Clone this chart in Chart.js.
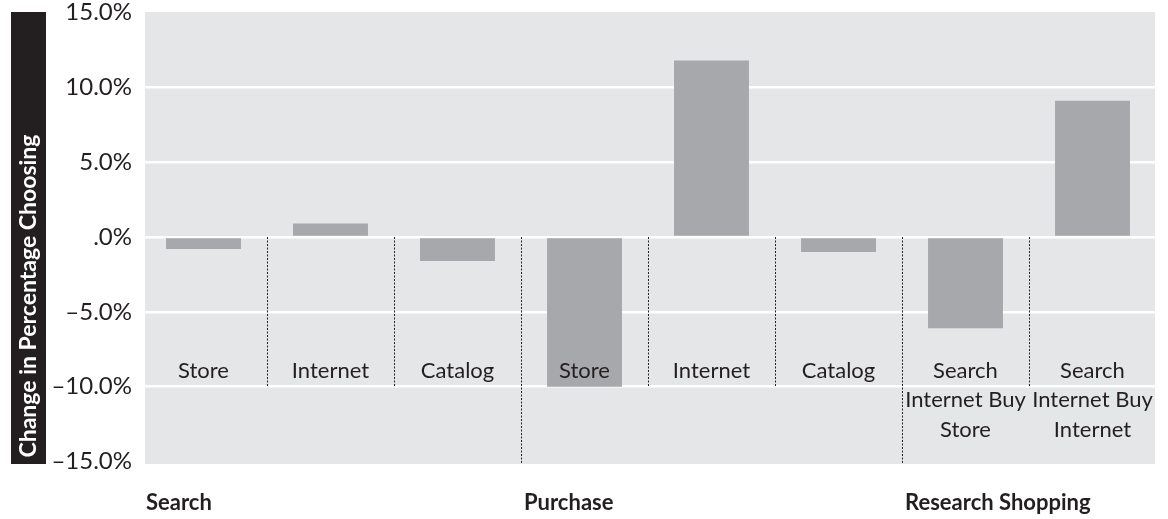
<!DOCTYPE html>
<html>
<head>
<meta charset="utf-8">
<script src="https://cdn.jsdelivr.net/npm/chart.js@4.4.1/dist/chart.umd.min.js"></script>
<style>
  body { margin: 0; background: #fff; }
  #box { width: 1168px; height: 519px; }
</style>
</head>
<body>
<div id="box"><canvas id="bar-chart"></canvas></div>
<script>
  // change in percentage choosing each channel
  var categories = ['Store', 'Internet', 'Catalog', 'Store', 'Internet', 'Catalog',
                    ['Search', 'Internet Buy', 'Store'], ['Search', 'Internet Buy', 'Internet']];
  var values = [-0.8, 0.9, -1.6, -10.0, 11.8, -1.0, -6.1, 9.1];

  var groups = ['Search', 'Purchase', 'Research Shopping'];
  var groupStarts = [0, 3, 6];

  var yTicks = [-15, -10, -5, 0, 5, 10, 15];
  var yTitle = 'Change in Percentage Choosing';

  var ink = '#231f20';
  var font = 'Lato';

  function tickLabel(v){
    if (v == 0) return '.0%';
    return (v < 0 ? '\u2013' : '') + Math.abs(v).toFixed(1) + '%';
  }

  var decor = {
    id: 'decor',
    beforeDraw: function(chart){
      var ctx = chart.ctx;
      var a = chart.chartArea;
      ctx.save();
      // grey panel
      ctx.fillStyle = '#e5e6e8';
      ctx.fillRect(a.left + 5, a.top - 0.5, a.right - a.left - 6, a.bottom - a.top + 3);

      // black box with the axis title
      ctx.fillStyle = ink;
      ctx.fillRect(11, a.top - 0.5, 35, a.bottom - a.top + 3);
      ctx.translate(29, a.bottom - 4);
      ctx.rotate(-Math.PI / 2);
      ctx.fillStyle = '#fff';
      ctx.font = 'bold 23px ' + font;
      ctx.textAlign = 'left';
      ctx.textBaseline = 'middle';
      ctx.fillText(yTitle, 0, 0, 324);
      ctx.restore();
    },
    afterDatasetsDraw: function(chart){
      var ctx = chart.ctx;
      var a = chart.chartArea;
      var x = chart.scales.x;
      var y = chart.scales.y;
      var zero = y.getPixelForValue(0);
      var low = y.getPixelForValue(-10);
      ctx.save();

      // dotted separators, the long ones split the groups
      ctx.strokeStyle = '#222';
      ctx.lineWidth = 1;
      ctx.setLineDash([2, 1.5]);
      for (var i = 0; i < categories.length - 1; i++){
        var sx = Math.round((x.getPixelForValue(i) + x.getPixelForValue(i + 1)) / 2) + 0.5;
        var end = groupStarts.indexOf(i + 1) >= 0 ? a.bottom + 2.5 : low;
        ctx.beginPath();
        ctx.moveTo(sx, zero);
        ctx.lineTo(sx, end);
        ctx.stroke();
      }
      ctx.setLineDash([]);

      // channel names inside the plot
      ctx.fillStyle = ink;
      ctx.font = '22px ' + font;
      ctx.textAlign = 'center';
      ctx.textBaseline = 'alphabetic';
      for (var j = 0; j < categories.length; j++){
        var lines = [].concat(categories[j]);
        for (var k = 0; k < lines.length; k++){
          ctx.fillText(lines[k], x.getPixelForValue(j), low - 9 + k * 29.5);
        }
      }

      // group names under the plot
      ctx.font = 'bold 22px ' + font;
      ctx.textAlign = 'left';
      for (var g = 0; g < groups.length; g++){
        var gi = groupStarts[g];
        var gx = gi == 0 ? a.left + 6 : (x.getPixelForValue(gi - 1) + x.getPixelForValue(gi)) / 2 + 3;
        ctx.fillText(groups[g], gx, a.bottom + 48);
      }
      ctx.restore();
    }
  };

  var mChart = new Chart(document.getElementById('bar-chart'), {
    type: 'bar',
    data: {
      labels: categories,
      datasets: [{
        data: values,
        backgroundColor: '#a7a8ab',
        borderWidth: 0,
        barPercentage: 0.59,
        categoryPercentage: 1
      }]
    },
    options: {
      responsive: true,
      maintainAspectRatio: false,
      animation: false,
      layout: { padding: { top: 12.5, right: 12, bottom: 57.5, left: 0 } },
      plugins: {
        legend: { display: false },
        title: { display: false },
        tooltip: { enabled: false }
      },
      scales: {
        x: { display: false },
        y: {
          min: yTicks[0],
          max: yTicks[yTicks.length - 1],
          afterBuildTicks: function(scale){
            scale.ticks = yTicks.map(function(v){ return { value: v }; });
          },
          afterFit: function(scale){
            scale.width = 140;
            // keep the plot edges where the padding puts them
            scale.paddingTop = 0;
            scale.paddingBottom = 0;
          },
          border: { display: false },
          grid: {
            drawTicks: false,
            lineWidth: 2.5,
            color: function(c){
              var v = c.tick ? c.tick.value : 0;
              return (v == 15 || v == -15) ? 'rgba(0,0,0,0)' : '#ffffff';
            }
          },
          ticks: {
            padding: 8,
            color: ink,
            font: { family: font, size: 24, lineHeight: 1 },
            callback: function(v){ return tickLabel(v); }
          }
        }
      }
    },
    plugins: [decor]
  });
</script>
</body>
</html>
